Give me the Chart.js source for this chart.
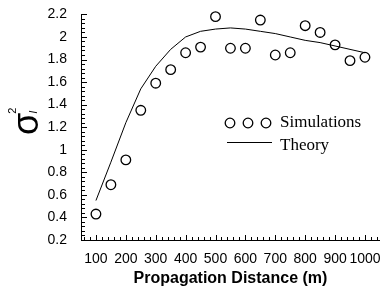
<!DOCTYPE html>
<html>
<head>
<meta charset="utf-8">
<script src="https://cdn.jsdelivr.net/npm/chart.js@4"></script>
<style>
  body { margin: 0; background: #fff; }
</style>
</head>
<body>
<canvas id="chart" width="386" height="288"></canvas>
<script>
// values
const distance = [100, 150, 200, 250, 300, 350, 400, 450, 500, 550, 600, 650, 700, 750, 800, 850, 900, 950, 1000];
const simulations = [0.43, 0.69, 0.91, 1.35, 1.59, 1.71, 1.86, 1.91, 2.18, 1.90, 1.90, 2.15, 1.84, 1.86, 2.10, 2.04, 1.93, 1.79, 1.82];
const theory = [0.55, 0.89, 1.24, 1.54, 1.74, 1.89, 2.00, 2.05, 2.07, 2.08, 2.07, 2.05, 2.03, 2.00, 1.97, 1.95, 1.92, 1.89, 1.86];
const xTicks = [100, 200, 300, 400, 500, 600, 700, 800, 900, 1000];
const yTicks = [0.2, 0.4, 0.6, 0.8, 1, 1.2, 1.4, 1.6, 1.8, 2, 2.2];

Chart.defaults.font.family = 'Liberation Sans';
Chart.defaults.color = '#000';

// axis lines plus inward major/minor ticks like the original plot
const innerTicks = {
  id: 'innerTicks',
  afterDraw(chart) {
    const c = chart.ctx;
    const xs = chart.scales.x, ys = chart.scales.y;
    const area = chart.chartArea;
    const left = Math.round(area.left);
    const bottom = Math.round(area.bottom);
    const top = Math.round(ys.getPixelForValue(ys.max));
    c.save();
    c.fillStyle = '#000';
    c.fillRect(left, top, 1, bottom - top + 1);
    c.fillRect(left, bottom, Math.round(area.right) - left, 1);
    for (let v = 60; v <= xs.max; v += 20) {
      const px = Math.round(xs.getPixelForValue(v));
      const len = (v % 100 === 0) ? 5 : 3;
      c.fillRect(px, bottom - len, 1, len);
    }
    for (let i = 0; i <= 50; i++) {
      const py = Math.round(ys.getPixelForValue(ys.min + i * 0.04));
      const len = (i % 5 === 0) ? 5 : 3;
      c.fillRect(left + 1, py, len, 1);
    }
    c.restore();
  }
};

// y title: sigma with sub I and sup 2, rotated
const yTitle = {
  id: 'yTitle',
  afterDraw(chart) {
    const c = chart.ctx;
    c.save();
    c.fillStyle = '#000';
    c.translate(38, 135);
    c.rotate(-Math.PI / 2);
    c.font = '36px "Liberation Sans"';
    c.textBaseline = 'alphabetic';
    c.fillText('σ', 0, 0);
    const w = c.measureText('σ').width;
    c.font = '11px "Liberation Sans"';
    c.fillText('2', w - 1, -22);
    c.font = 'italic 11px "Liberation Sans"';
    c.fillText('I', w - 1, -1);
    c.restore();
  }
};

// legend drawn inside the plot
const innerLegend = {
  id: 'innerLegend',
  afterDraw(chart) {
    const c = chart.ctx;
    c.save();
    c.strokeStyle = '#000';
    c.fillStyle = '#000';
    c.lineWidth = 1.3;
    [230, 248, 266].forEach(cx => {
      c.beginPath();
      c.arc(cx, 123, 4.8, 0, Math.PI * 2);
      c.stroke();
    });
    c.fillRect(227, 142, 45, 1);
    c.font = '17px "Liberation Serif"';
    c.textBaseline = 'middle';
    c.fillText(chart.data.datasets[0].label, 280, 123);
    c.fillText(chart.data.datasets[1].label, 280, 146);
    c.restore();
  }
};

const ctx = document.getElementById('chart').getContext('2d');
const myChart = new Chart(ctx, {
  type: 'line',
  data: {
    datasets: [{
      label: 'Simulations',
      data: distance.map((d, i) => ({ x: d, y: simulations[i] })),
      showLine: false,
      clip: false,
      pointRadius: 4.8,
      pointBorderWidth: 1.3,
      pointBorderColor: '#000',
      pointBackgroundColor: 'rgba(255,255,255,0)'
    }, {
      label: 'Theory',
      data: distance.map((d, i) => ({ x: d, y: theory[i] })),
      borderColor: '#000',
      borderWidth: 1,
      pointRadius: 0,
      tension: 0
    }]
  },
  options: {
    responsive: false,
    animation: false,
    layout: { padding: { top: 10, right: 5, left: 0, bottom: 0 } },
    plugins: { legend: { display: false }, tooltip: { enabled: false } },
    scales: {
      x: {
        type: 'linear',
        min: 50,
        max: 1050,
        afterBuildTicks: s => { s.ticks = xTicks.map(v => ({ value: v })); },
        afterFit: s => { s.height = 48; },
        grid: { display: false },
        border: { display: false },
        ticks: { font: { size: 14 }, padding: 3, autoSkip: false, maxRotation: 0, callback: v => String(v) },
        title: { display: true, text: 'Propagation Distance (m)', font: { size: 16, weight: 'bold' }, padding: { top: 2, bottom: 0 } }
      },
      y: {
        min: 0.2,
        max: 2.2,
        afterBuildTicks: s => { s.ticks = yTicks.map(v => ({ value: v })); },
        afterFit: s => { s.width = 81; },
        grid: { display: false },
        border: { display: false },
        ticks: { font: { size: 14 }, padding: 6, callback: v => String(v) }
      }
    }
  },
  plugins: [innerTicks, yTitle, innerLegend]
});
</script>
</body>
</html>
